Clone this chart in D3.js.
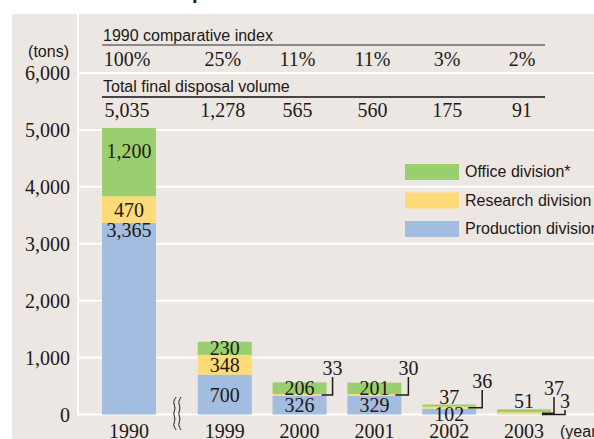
<html lang="en">
  <head>
    <meta charset="UTF-8" />
    <title>Final disposal volume</title>
    <script src="https://d3js.org/d3.v7.min.js"></script>
  </head>
  <body>
    <style>
      body {
        margin: 0;
        padding: 0;
        background-color: #ffffff;
      }
      svg {
        display: block;
      }
      .serif {
        font-family: "Liberation Serif", "Times New Roman", serif;
        font-size: 20px;
        fill: #231815;
      }
      .sans {
        font-family: "Liberation Sans", Arial, sans-serif;
        font-size: 16px;
        fill: #231815;
      }
    </style>
    <script>
      const w = 594;
      const h = 439;

      // data
      const years = ["1990", "1999", "2000", "2001", "2002", "2003"];
      const production = [3365, 700, 326, 329, 102, 3];
      const research = [470, 348, 33, 30, 36, 37];
      const office = [1200, 230, 206, 201, 37, 51];
      const totals = ["5,035", "1,278", "565", "560", "175", "91"];
      const indexPct = ["100%", "25%", "11%", "11%", "3%", "2%"];
      const yTicks = [0, 1000, 2000, 3000, 4000, 5000, 6000];
      const keys = ["production", "research", "office"];
      const legendNames = ["Office division*", "Research division", "Production division"];

      const colors = {
        office: "#9acf6f",
        research: "#fcdb78",
        production: "#a3bde1",
      };
      const panelColor = "#ece7e3";

      // how each value label sits (layout only)
      const labelMode = {
        "1990": { office: "upper", research: "center", production: "top" },
        "1999": { office: "center", research: "center", production: "center" },
        "2000": { office: "center", research: { dx: 6, ty: 375, x0: -5 }, production: "center" },
        "2001": { office: "center", research: { dx: 7, ty: 375, x0: -6 }, production: "center" },
        "2002": { office: "above", research: { dx: 6, ty: 388, x0: -8 }, production: "below" },
        "2003": { office: "above", research: { dx: 3, ty: 395, x0: -9 }, production: { dx: 14, ty: 408, x0: -9 } },
      };

      const breakGap = 0.28;
      const barWidth = 54;

      const rows = years.map((y, i) => ({
        year: y,
        idx: i === 0 ? 0 : i + breakGap,
        production: production[i],
        research: research[i],
        office: office[i],
      }));

      const svg = d3.select("body").append("svg").attr("width", w).attr("height", h);

      // title (cut off at the top of the picture)
      const title = svg
        .append("text")
        .attr("class", "sans")
        .style("font-size", "20px")
        .style("font-weight", "bold")
        .attr("y", -1)
        .text("Trends in Final Disposal Volume");
      const pOffset = title.node().getSubStringLength(0, title.text().indexOf("p"));
      title.attr("x", 192 - pOffset);

      // panel
      svg.append("rect").attr("x", 12).attr("y", 14).attr("width", w - 12).attr("height", h - 14).attr("fill", panelColor);

      const xScale = d3.scaleLinear().domain([0, 5 + breakGap]).range([129, 524]);
      const yScale = d3.scaleLinear().domain([0, 6000]).range([414.5, 73]);

      // grid
      svg
        .append("g")
        .selectAll("line")
        .data(yTicks)
        .enter()
        .append("line")
        .attr("x1", 78)
        .attr("x2", w)
        .attr("y1", (d) => yScale(d))
        .attr("y2", (d) => yScale(d))
        .attr("stroke", "#ffffff")
        .attr("stroke-width", 2);
      svg.append("line").attr("x1", 78).attr("x2", 78).attr("y1", 14).attr("y2", yScale(0) + 1).attr("stroke", "#fff").attr("stroke-width", 2);

      // y axis
      const yAxis = d3
        .axisLeft(yScale)
        .tickValues(yTicks)
        .tickSize(0)
        .tickPadding(0)
        .tickFormat(d3.format(","));
      const yg = svg.append("g").attr("transform", "translate(70,0)").call(yAxis);
      yg.select(".domain").remove();
      yg.selectAll("text").attr("class", "serif").attr("fill", null).attr("dy", "0.33em").style("font-size", "20px").style("font-family", '"Liberation Serif", serif');
      svg.append("text").attr("class", "sans").attr("x", 69).attr("y", 57).attr("text-anchor", "end").text("(tons)");

      // table above the plot
      const tableL = 102;
      const tableR = 545;
      svg.append("text").attr("class", "sans").attr("x", 103).attr("y", 41).text("1990 comparative index");
      svg.append("line").attr("x1", tableL).attr("x2", tableR).attr("y1", 45).attr("y2", 45).attr("stroke", "#6b6b6b").attr("stroke-width", 1.5);
      svg
        .append("g")
        .selectAll("text")
        .data(indexPct)
        .enter()
        .append("text")
        .attr("class", "serif")
        .attr("text-anchor", "middle")
        .attr("x", (d, i) => xScale(rows[i].idx) - 2)
        .attr("y", 66)
        .text((d) => d);
      svg.append("text").attr("class", "sans").attr("x", 103).attr("y", 92).text("Total final disposal volume");
      svg.append("line").attr("x1", tableL).attr("x2", tableR).attr("y1", 97).attr("y2", 97).attr("stroke", "#111").attr("stroke-width", 1.5);
      svg
        .append("g")
        .selectAll("text")
        .data(totals)
        .enter()
        .append("text")
        .attr("class", "serif")
        .attr("text-anchor", "middle")
        .attr("x", (d, i) => xScale(rows[i].idx) - 2)
        .attr("y", 117)
        .text((d) => d);

      // stacked bars
      const stacked = d3.stack().keys(keys)(rows);
      const bars = svg.append("g");
      stacked.forEach((layer) => {
        bars
          .append("g")
          .selectAll("rect")
          .data(layer)
          .enter()
          .append("rect")
          .attr("x", (d) => xScale(d.data.idx) - barWidth / 2)
          .attr("width", barWidth)
          .attr("y", (d) => yScale(d[1]))
          .attr("height", (d) => yScale(d[0]) - yScale(d[1]))
          .attr("fill", colors[layer.key]);
      });

      // value labels
      const labels = svg.append("g");
      stacked.forEach((layer) => {
        layer.forEach((d) => {
          const mode = labelMode[d.data.year][layer.key];
          const cx = xScale(d.data.idx);
          const top = yScale(d[1]);
          const bottom = yScale(d[0]);
          const value = d.data[layer.key];
          let tx = cx;
          let ty = (top + bottom) / 2 + 7;
          if (mode === "upper") ty = top + 30;
          else if (mode === "top") ty = top + 14;
          else if (mode === "above") ty = top - 1;
          else if (mode === "below") ty = bottom + 6;
          else if (typeof mode === "object") {
            const right = cx + barWidth / 2;
            const ym = (top + bottom) / 2;
            tx = right + mode.dx;
            ty = mode.ty;
            labels
              .append("path")
              .attr("d", `M${right + mode.x0},${ym}H${tx}V${ty + 2}`)
              .attr("fill", "none")
              .attr("stroke", "#231815")
              .attr("stroke-width", 1.5);
          }
          labels
            .append("text")
            .attr("class", "serif")
            .attr("text-anchor", "middle")
            .attr("x", tx)
            .attr("y", ty)
            .text(d3.format(",")(value));
        });
      });

      // x labels
      svg
        .append("g")
        .selectAll("text")
        .data(rows)
        .enter()
        .append("text")
        .attr("class", "serif")
        .attr("text-anchor", "middle")
        .attr("x", (d) => xScale(d.idx))
        .attr("y", 438)
        .text((d) => d.year);
      svg.append("text").attr("class", "sans").attr("x", 560).attr("y", 437).text("(year)");

      // axis break mark between 1990 and 1999
      const bx = (xScale(0) + xScale(1 + breakGap)) / 2;
      const wave = d3
        .line()
        .curve(d3.curveBasis)
        .x((d) => d[0])
        .y((d) => d[1]);
      [-2.5, 2.5].forEach((off) => {
        const pts = d3.range(0, 7).map((k) => [bx + off + (k % 2 === 0 ? 1.8 : -1.8), 397 + k * 5.5]);
        svg.append("path").attr("d", wave(pts)).attr("fill", "none").attr("stroke", "#231815").attr("stroke-width", 1);
      });

      // legend
      const legend = svg.append("g");
      const legendKeys = ["office", "research", "production"];
      legendKeys.forEach((k, i) => {
        legend.append("rect").attr("x", 405).attr("y", 164 + i * 28.5).attr("width", 54).attr("height", 16).attr("fill", colors[k]);
        legend.append("text").attr("class", "sans").attr("x", 465).attr("y", 177 + i * 28.5).text(legendNames[i]);
      });
    </script>
  </body>
</html>
